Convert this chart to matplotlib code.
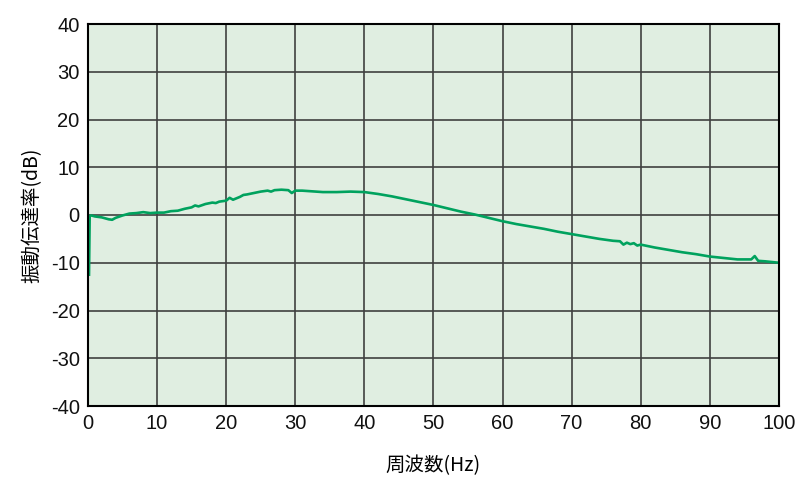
import matplotlib
matplotlib.use("Agg")
import matplotlib.pyplot as plt

plt.rcParams['font.family'] = ['Noto Sans CJK JP', 'DejaVu Sans']
plt.rcParams['axes.unicode_minus'] = False

freq = [0.15, 0.25, 0.5, 1, 2, 3, 3.5, 4, 5, 6, 7, 8, 9, 10, 11, 12, 13, 14, 15,
        15.5, 16, 17, 18, 18.5, 19, 20, 20.5, 21, 22, 22.5, 23, 24, 25, 26,
        26.5, 27, 28, 29, 29.5, 30, 31, 32, 34, 36, 38, 40, 42, 44, 46, 48,
        50, 52, 54, 56, 58, 60, 62, 64, 66, 68, 70, 72, 74, 76, 77, 77.5, 78,
        78.5, 79, 79.5, 80, 81, 82, 84, 86, 88, 90, 92, 94, 96, 96.5, 97, 98,
        100]
db = [-12.5, -0.2, -0.1, -0.3, -0.5, -0.9, -1.0, -0.6, -0.1, 0.3, 0.4, 0.6,
      0.4, 0.5, 0.5, 0.8, 0.9, 1.3, 1.6, 2.0, 1.8, 2.3, 2.6, 2.5, 2.8, 3.0,
      3.6, 3.2, 3.8, 4.2, 4.3, 4.6, 4.9, 5.1, 4.9, 5.2, 5.3, 5.2, 4.6, 5.1,
      5.1, 5.0, 4.8, 4.8, 4.9, 4.8, 4.4, 3.9, 3.3, 2.7, 2.1, 1.4, 0.7, 0.1,
      -0.6, -1.3, -1.9, -2.4, -2.9, -3.5, -4.0, -4.5, -5.0, -5.4, -5.5, -6.2,
      -5.8, -6.1, -5.9, -6.4, -6.2, -6.5, -6.8, -7.3, -7.8, -8.2, -8.7, -9.0,
      -9.3, -9.3, -8.6, -9.6, -9.7, -10.0]

x_ticks = list(range(0, 101, 10))
y_ticks = list(range(-40, 41, 10))

fig = plt.figure(figsize=(8.1, 5.0), dpi=100)
ax = fig.add_axes([0.1086, 0.188, 0.853, 0.764])
ax.set_facecolor('#e0eee1')
ax.plot(freq, db, color='#00a25e', linewidth=1.9)

ax.set_xlim(0, 100)
ax.set_ylim(-40, 40)
ax.set_xticks(x_ticks)
ax.set_yticks(y_ticks)
ax.grid(True, color='#404040', linewidth=1.2)
ax.set_axisbelow(True)
for s in ax.spines.values():
    s.set_linewidth(1.5)
    s.set_color('black')
ax.tick_params(length=0, labelsize=14.5, pad=6, colors='#111111')
for lbl in ax.get_xticklabels() + ax.get_yticklabels():
    lbl.set_family(['Liberation Sans', 'DejaVu Sans'])

ax.set_xlabel('周波数(Hz)', fontsize=14, labelpad=16)
ax.set_ylabel('振動伝達率(dB)', fontsize=14, labelpad=6)

fig.savefig('out.png', dpi=100)
